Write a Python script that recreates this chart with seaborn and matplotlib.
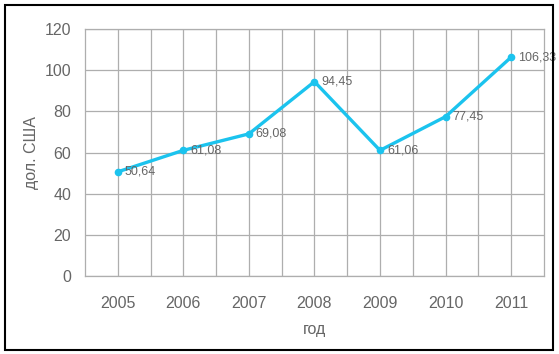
import matplotlib
matplotlib.use("Agg")
import matplotlib.pyplot as plt
import seaborn as sns
import pandas as pd
from matplotlib.patches import Rectangle
from matplotlib.ticker import MultipleLocator

years = [2005, 2006, 2007, 2008, 2009, 2010, 2011]
values = [50.64, 61.08, 69.08, 94.45, 61.06, 77.45, 106.33]
value_labels = ["50,64", "61,08", "69,08", "94,45", "61,06", "77,45", "106,33"]
x_title = "год"
y_title = "дол. США"

sns.set_style("white")
plt.rcParams['font.family'] = ['Liberation Sans', 'DejaVu Sans']

df = pd.DataFrame({"year": years, "value": values})

fig = plt.figure(figsize=(5.59, 3.54), dpi=100)
ax = fig.add_axes([0.152, 0.220, 0.821, 0.698])

line_color = "#1BC3EE"
sns.lineplot(data=df, x="year", y="value", ax=ax, color=line_color, linewidth=2.4,
             marker="o", markersize=5.5, markeredgewidth=0, markerfacecolor=line_color)

ax.set_xlim(years[0] - 0.5, years[-1] + 0.5)
ax.set_ylim(0, 120)
ax.set_xticks(years)
ax.set_xticklabels([str(y) for y in years])
ax.set_xticks([y + 0.5 for y in years[:-1]], minor=True)
ax.yaxis.set_major_locator(MultipleLocator(20))

grid_color = "#AEAEAE"
ax.grid(True, which="major", axis="both", color=grid_color, linewidth=0.9)
ax.grid(True, which="minor", axis="x", color=grid_color, linewidth=0.9)
ax.set_axisbelow(True)
for s in ax.spines.values():
    s.set_color(grid_color)
    s.set_linewidth(0.9)

text_color = "#666666"
ax.tick_params(axis="both", which="both", length=0, labelsize=11.5, labelcolor=text_color)
ax.tick_params(axis="x", pad=14)
ax.tick_params(axis="y", pad=10)

ax.set_xlabel(x_title, fontsize=11.5, color=text_color, labelpad=8)
ax.set_ylabel(y_title, fontsize=11.5, color=text_color, labelpad=4)

for x, v, lab in zip(years, values, value_labels):
    ax.annotate(lab, (x, v), xytext=(5, 0), textcoords="offset points",
                ha="left", va="center", fontsize=9, color=text_color)

fig.add_artist(Rectangle((0.009, 0.012), 0.980, 0.974, transform=fig.transFigure,
                         fill=False, edgecolor="black", linewidth=1.5))

fig.savefig("out.png", dpi=100)
